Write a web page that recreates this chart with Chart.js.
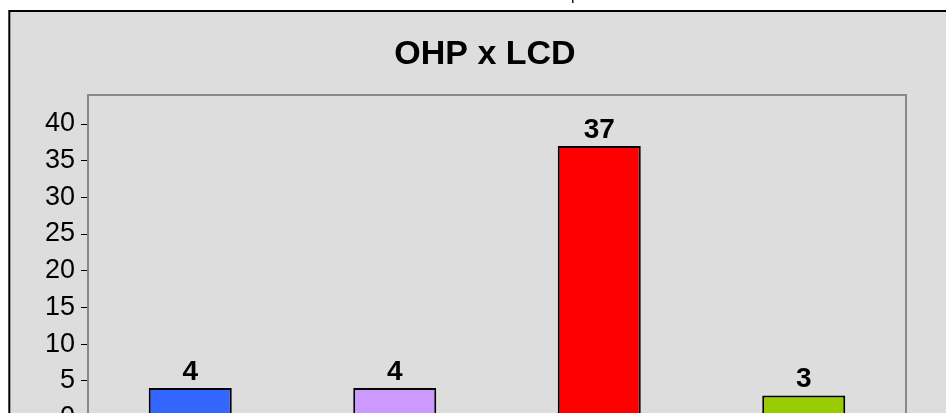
<!DOCTYPE html>
<html>
<head>
<meta charset="utf-8">
<script src="https://cdn.jsdelivr.net/npm/chart.js@4.4.1/dist/chart.umd.min.js"></script>
<style>
  html, body { margin: 0; padding: 0; background: #ffffff; overflow: hidden; }
  #wrap { position: absolute; left: 0; top: 0; width: 946px; height: 440px; }
</style>
</head>
<body>
<div id="wrap"><canvas id="c" width="946" height="440"></canvas></div>
<script>
// ---- data ----
const chartTitle = "OHP x LCD";
const categories = ["A", "B", "C", "D"];
const values = [4, 4, 37, 3];
const barColors = ["#3366FF", "#CC99FF", "#FF0000", "#99CC00"];
const yTicks = [0, 5, 10, 15, 20, 25, 30, 35, 40];

const FONT = "'Liberation Sans', Arial, Helvetica, sans-serif";

const framePlugin = {
  id: 'frame',
  beforeDraw(chart) {
    const ctx = chart.ctx;
    ctx.save();
    ctx.fillStyle = '#ffffff';
    ctx.fillRect(0, 0, chart.width, chart.height);
    ctx.fillStyle = '#dddddd';
    ctx.fillRect(9, 11, chart.width + 20, chart.height + 20);
    ctx.strokeStyle = '#000000';
    ctx.lineWidth = 2;
    ctx.strokeRect(9.3, 11, chart.width + 20, chart.height + 20);
    // fragment of text above the frame (descender visible only)
    ctx.fillStyle = '#000000';
    ctx.font = "16px " + FONT;
    ctx.textAlign = 'left';
    ctx.textBaseline = 'alphabetic';
    ctx.fillText('p', 571, 0);
    // title
    ctx.font = "bold 34px " + FONT;
    ctx.textAlign = 'center';
    ctx.fillText(chartTitle, 485, 64);
    ctx.restore();
  },
  beforeDatasetsDraw(chart) {
    const { ctx, chartArea } = chart;
    ctx.save();
    ctx.strokeStyle = '#888888';
    ctx.lineWidth = 2;
    ctx.strokeRect(chartArea.left, chartArea.top - 29, chartArea.right - chartArea.left, chartArea.bottom - chartArea.top + 60);
    ctx.restore();
  },
  afterDatasetsDraw(chart) {
    const ctx = chart.ctx;
    const meta = chart.getDatasetMeta(0);
    ctx.save();
    ctx.fillStyle = '#000000';
    ctx.font = "bold 28px " + FONT;
    ctx.textAlign = 'center';
    ctx.textBaseline = 'alphabetic';
    meta.data.forEach((bar, i) => {
      ctx.fillText(String(values[i]), bar.x, bar.y - 8);
    });
    ctx.restore();
  }
};

new Chart(document.getElementById('c'), {
  type: 'bar',
  data: {
    labels: categories,
    datasets: [{
      data: values,
      backgroundColor: barColors,
      borderColor: '#000000',
      borderWidth: 2,
      borderSkipped: false,
      categoryPercentage: 1.0,
      barPercentage: 0.406
    }]
  },
  options: {
    responsive: false,
    animation: false,
    layout: { padding: { top: 124, left: 0, right: 40, bottom: 22.6 } },
    plugins: {
      legend: { display: false },
      title: { display: false },
      tooltip: { enabled: false }
    },
    scales: {
      x: { display: false },
      y: {
        min: 0,
        max: 40,
        afterFit(scale) { scale.width = 88; },
        afterBuildTicks(scale) { scale.ticks = yTicks.map(v => ({ value: v })); },
        ticks: {
          color: '#000000',
          font: { family: FONT, size: 27 },
          padding: 6
        },
        grid: {
          drawOnChartArea: false,
          drawTicks: true,
          tickLength: 7,
          color: '#000000',
          lineWidth: 1
        },
        border: { display: true, color: '#000000', width: 2 }
      }
    }
  },
  plugins: [framePlugin]
});
</script>
</body>
</html>
